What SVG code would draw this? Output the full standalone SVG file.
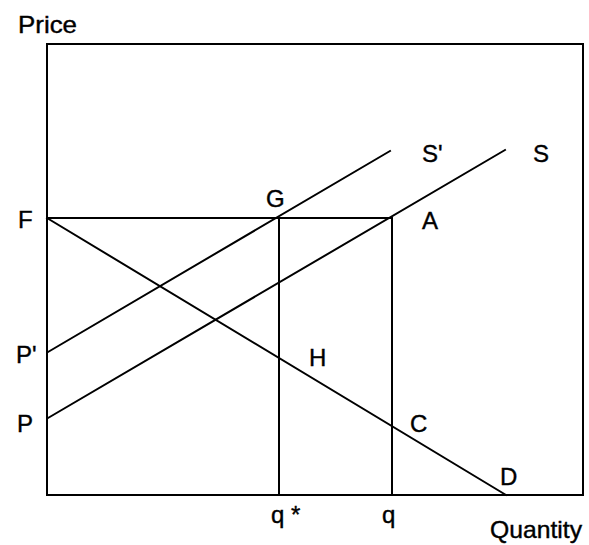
<svg xmlns="http://www.w3.org/2000/svg" width="589" height="545" viewBox="0 0 589 545">
<style>
.ln{stroke:#000;stroke-width:2;fill:none;stroke-linecap:square}
.lb{font-family:"Liberation Sans",Arial,sans-serif;font-size:24px;fill:#000;stroke:#000;stroke-width:0.4}
.ax{font-family:"Liberation Sans",Arial,sans-serif;font-size:24px;fill:#000;stroke:#000;stroke-width:0.4}
</style>
<rect width="589" height="545" fill="#fff"/>
<g id="frame">
<rect class="ln" x="47" y="44" width="536" height="451"/>
</g>
<g id="connectors">
<line class="ln" x1="47" y1="218" x2="392" y2="218"/>
<line class="ln" x1="279" y1="218" x2="279" y2="495"/>
<line class="ln" x1="392" y1="218" x2="392" y2="495"/>
<line class="ln" x1="47" y1="218" x2="506" y2="495"/>
<line class="ln" x1="48" y1="352" x2="390" y2="151"/>
<line class="ln" x1="48" y1="418" x2="505" y2="150"/>
</g>
<g id="axis-labels">
<text class="ax" x="18" y="33" textLength="59" lengthAdjust="spacingAndGlyphs">Price</text>
<text class="ax" x="490" y="538" textLength="92" lengthAdjust="spacingAndGlyphs">Quantity</text>
</g>
<g id="F"><text class="lb" x="18" y="228">F</text></g>
<g id="P-prime"><text class="lb" x="16" y="363">P'</text></g>
<g id="P"><text class="lb" x="17" y="432">P</text></g>
<g id="G"><text class="lb" x="266" y="207">G</text></g>
<g id="A"><text class="lb" x="422" y="229">A</text></g>
<g id="S-prime"><text class="lb" x="422" y="162">S'</text></g>
<g id="S"><text class="lb" x="533" y="162">S</text></g>
<g id="H"><text class="lb" x="309" y="366">H</text></g>
<g id="C"><text class="lb" x="410" y="432">C</text></g>
<g id="D"><text class="lb" x="500" y="485">D</text></g>
<g id="q-star"><text class="lb" x="271" y="523">q *</text></g>
<g id="q"><text class="lb" x="382" y="523">q</text></g>
</svg>
